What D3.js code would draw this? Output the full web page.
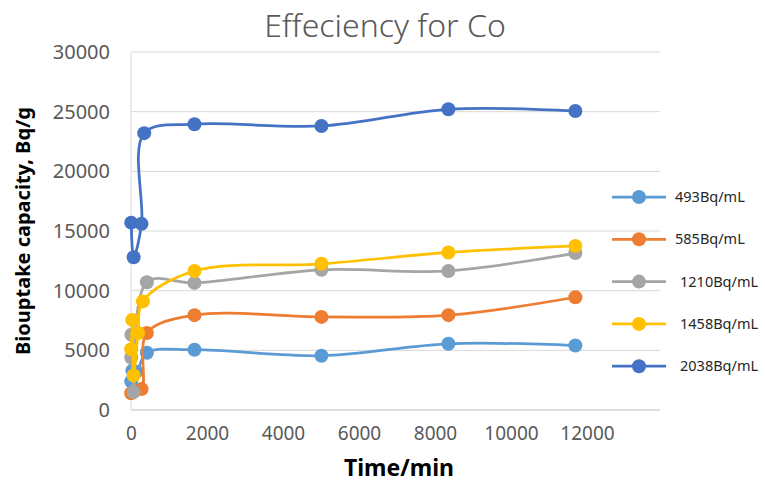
<!DOCTYPE html>
<html>
<head>
<meta charset="utf-8">
<script src="https://cdn.jsdelivr.net/npm/d3@7"></script>
<style>
body{margin:0;background:#fff;}
text{font-family:"Noto Sans","Open Sans",sans-serif;}
</style>
</head>
<body>
<div class="chart"></div>
<script>
//chart data, times in minutes, capacity in Bq/g
var seriesNames = ["493Bq/mL","585Bq/mL","1210Bq/mL","1458Bq/mL","2038Bq/mL"];
var seriesColors = ["#5B9BD5","#ED7D31","#A5A5A5","#FFC000","#4472C4"];

var times493 = [5, 30, 120, 360, 1440, 4320, 7200, 10080];
var vals493 = [2400, 3300, 3200, 4800, 5050, 4550, 5550, 5400];

var times585 = [5, 240, 360, 1440, 4320, 7200, 10080];
var vals585 = [1400, 1750, 6450, 7950, 7800, 7950, 9450];

var times1210 = [5, 10, 60, 360, 1440, 4320, 7200, 10080];
var vals1210 = [4400, 6300, 1500, 10700, 10650, 11750, 11650, 13150];

var times1458 = [5, 30, 60, 160, 270, 1440, 4320, 7200, 10080];
var vals1458 = [5100, 7550, 2900, 6450, 9100, 11650, 12250, 13200, 13750];

var times2038 = [5, 60, 240, 300, 1440, 4320, 7200, 10080];
var vals2038 = [15700, 12800, 15600, 23200, 23950, 23800, 25200, 25050];

var xTicks = [0, 2000, 4000, 6000, 8000, 10000, 12000];
var yTicks = [0, 5000, 10000, 15000, 20000, 25000, 30000];

var allTimes = [times493, times585, times1210, times1458, times2038];
var allVals = [vals493, vals585, vals1210, vals1458, vals2038];

var margin = {top:52, right:105, bottom:78, left:131};
var width = 765, height = 488;
var plotW = width - margin.left - margin.right,
	plotH = height - margin.top - margin.bottom;

var svg = d3.select(".chart").append("svg")
	.attr("width", width)
	.attr("height", height);

var x = d3.scaleLinear().domain([0, 12000]).range([0, plotW]);
//tick labels in the picture sit closer together than the data scale
var xLabel = d3.scaleLinear().domain([0, 12000]).range([0, 456]);
var y = d3.scaleLinear().domain([0, 30000]).range([plotH, 0]);

var g = svg.append("g")
	.attr("transform", "translate(" + margin.left + "," + margin.top + ")");

//horizontal gridlines
g.selectAll(".grid")
	.data(yTicks)
	.enter().append("line")
	.attr("class","grid")
	.attr("x1", 0).attr("x2", plotW)
	.attr("y1", function(d){ return y(d); })
	.attr("y2", function(d){ return y(d); })
	.style("stroke","#d9d9d9")
	.style("stroke-width",1);

//y axis line
g.append("line")
	.attr("x1",0).attr("x2",0)
	.attr("y1",0).attr("y2",plotH)
	.style("stroke","#d9d9d9");

var yAxis = d3.axisLeft(y).tickValues(yTicks).tickSize(0).tickPadding(21).tickFormat(d3.format("d"));
var xAxis = d3.axisBottom(xLabel).tickValues(xTicks).tickSize(0).tickPadding(17).tickFormat(d3.format("d"));

var yA = g.append("g").call(yAxis);
yA.select(".domain").remove();
yA.selectAll("text").style("font-size","20px").style("fill","#595959")
	.style("font-family","'Noto Sans',sans-serif");

var xA = g.append("g").attr("transform","translate(0," + plotH + ")").call(xAxis);
xA.select(".domain").remove();
xA.selectAll("text").style("font-size","19px").style("fill","#595959")
	.style("font-family","'Noto Sans',sans-serif");

//x axis line
g.append("line")
	.attr("x1",0).attr("x2",plotW)
	.attr("y1",plotH).attr("y2",plotH)
	.style("stroke","#d0d0d0");

//series lines + markers, centripetal spline keeps the jumps near t=0 from looping
var line = d3.line()
	.x(function(d){ return x(d[0]); })
	.y(function(d){ return y(d[1]); })
	.curve(d3.curveCatmullRom.alpha(0.5));

seriesNames.forEach(function(name, i){
	var pts = allTimes[i].map(function(t, j){ return [t, allVals[i][j]]; });
	var sg = g.append("g").attr("class","series s" + i);
	sg.append("path")
		.datum(pts)
		.attr("d", line)
		.style("fill","none")
		.style("stroke", seriesColors[i])
		.style("stroke-width", 2.75)
		.style("stroke-linejoin","round");
	sg.selectAll("circle")
		.data(pts)
		.enter().append("circle")
		.attr("cx", function(d){ return x(d[0]); })
		.attr("cy", function(d){ return y(d[1]); })
		.attr("r", 7)
		.style("fill", seriesColors[i]);
});

//legend
var lgd = svg.selectAll(".entry")
	.data(seriesNames)
	.enter().append("g")
	.attr("class","entry")
	.attr("transform", function(d,i){ return "translate(612," + (197 + i*42.3) + ")"; });

lgd.append("line")
	.attr("x1",0).attr("x2",54)
	.style("stroke", function(d,i){ return seriesColors[i]; })
	.style("stroke-width",2.75);
lgd.append("circle")
	.attr("cx",27).attr("r",7)
	.style("fill", function(d,i){ return seriesColors[i]; });
lgd.append("text")
	.attr("x", function(d,i){ return i >= 2 ? 68 : 63; })
	.attr("y", 5)
	.text(function(d){ return d; })
	.style("font-size","14.5px")
	.style("fill","#262626");

//titles
svg.append("text")
	.attr("x", 385).attr("y", 37)
	.attr("text-anchor","middle")
	.text("Effeciency for Co")
	.style("font-size","32px")
	.style("font-weight","300")
	.style("fill","#595959");

svg.append("text")
	.attr("x", 399).attr("y", 476)
	.attr("text-anchor","middle")
	.text("Time/min")
	.style("font-size","23px")
	.style("font-weight","bold")
	.style("fill","#000");

svg.append("text")
	.attr("transform","translate(30,231) rotate(-90)")
	.attr("text-anchor","middle")
	.text("Biouptake capacity, Bq/g")
	.style("font-size","20px")
	.style("font-weight","bold")
	.style("fill","#000");
</script>
</body>
</html>
